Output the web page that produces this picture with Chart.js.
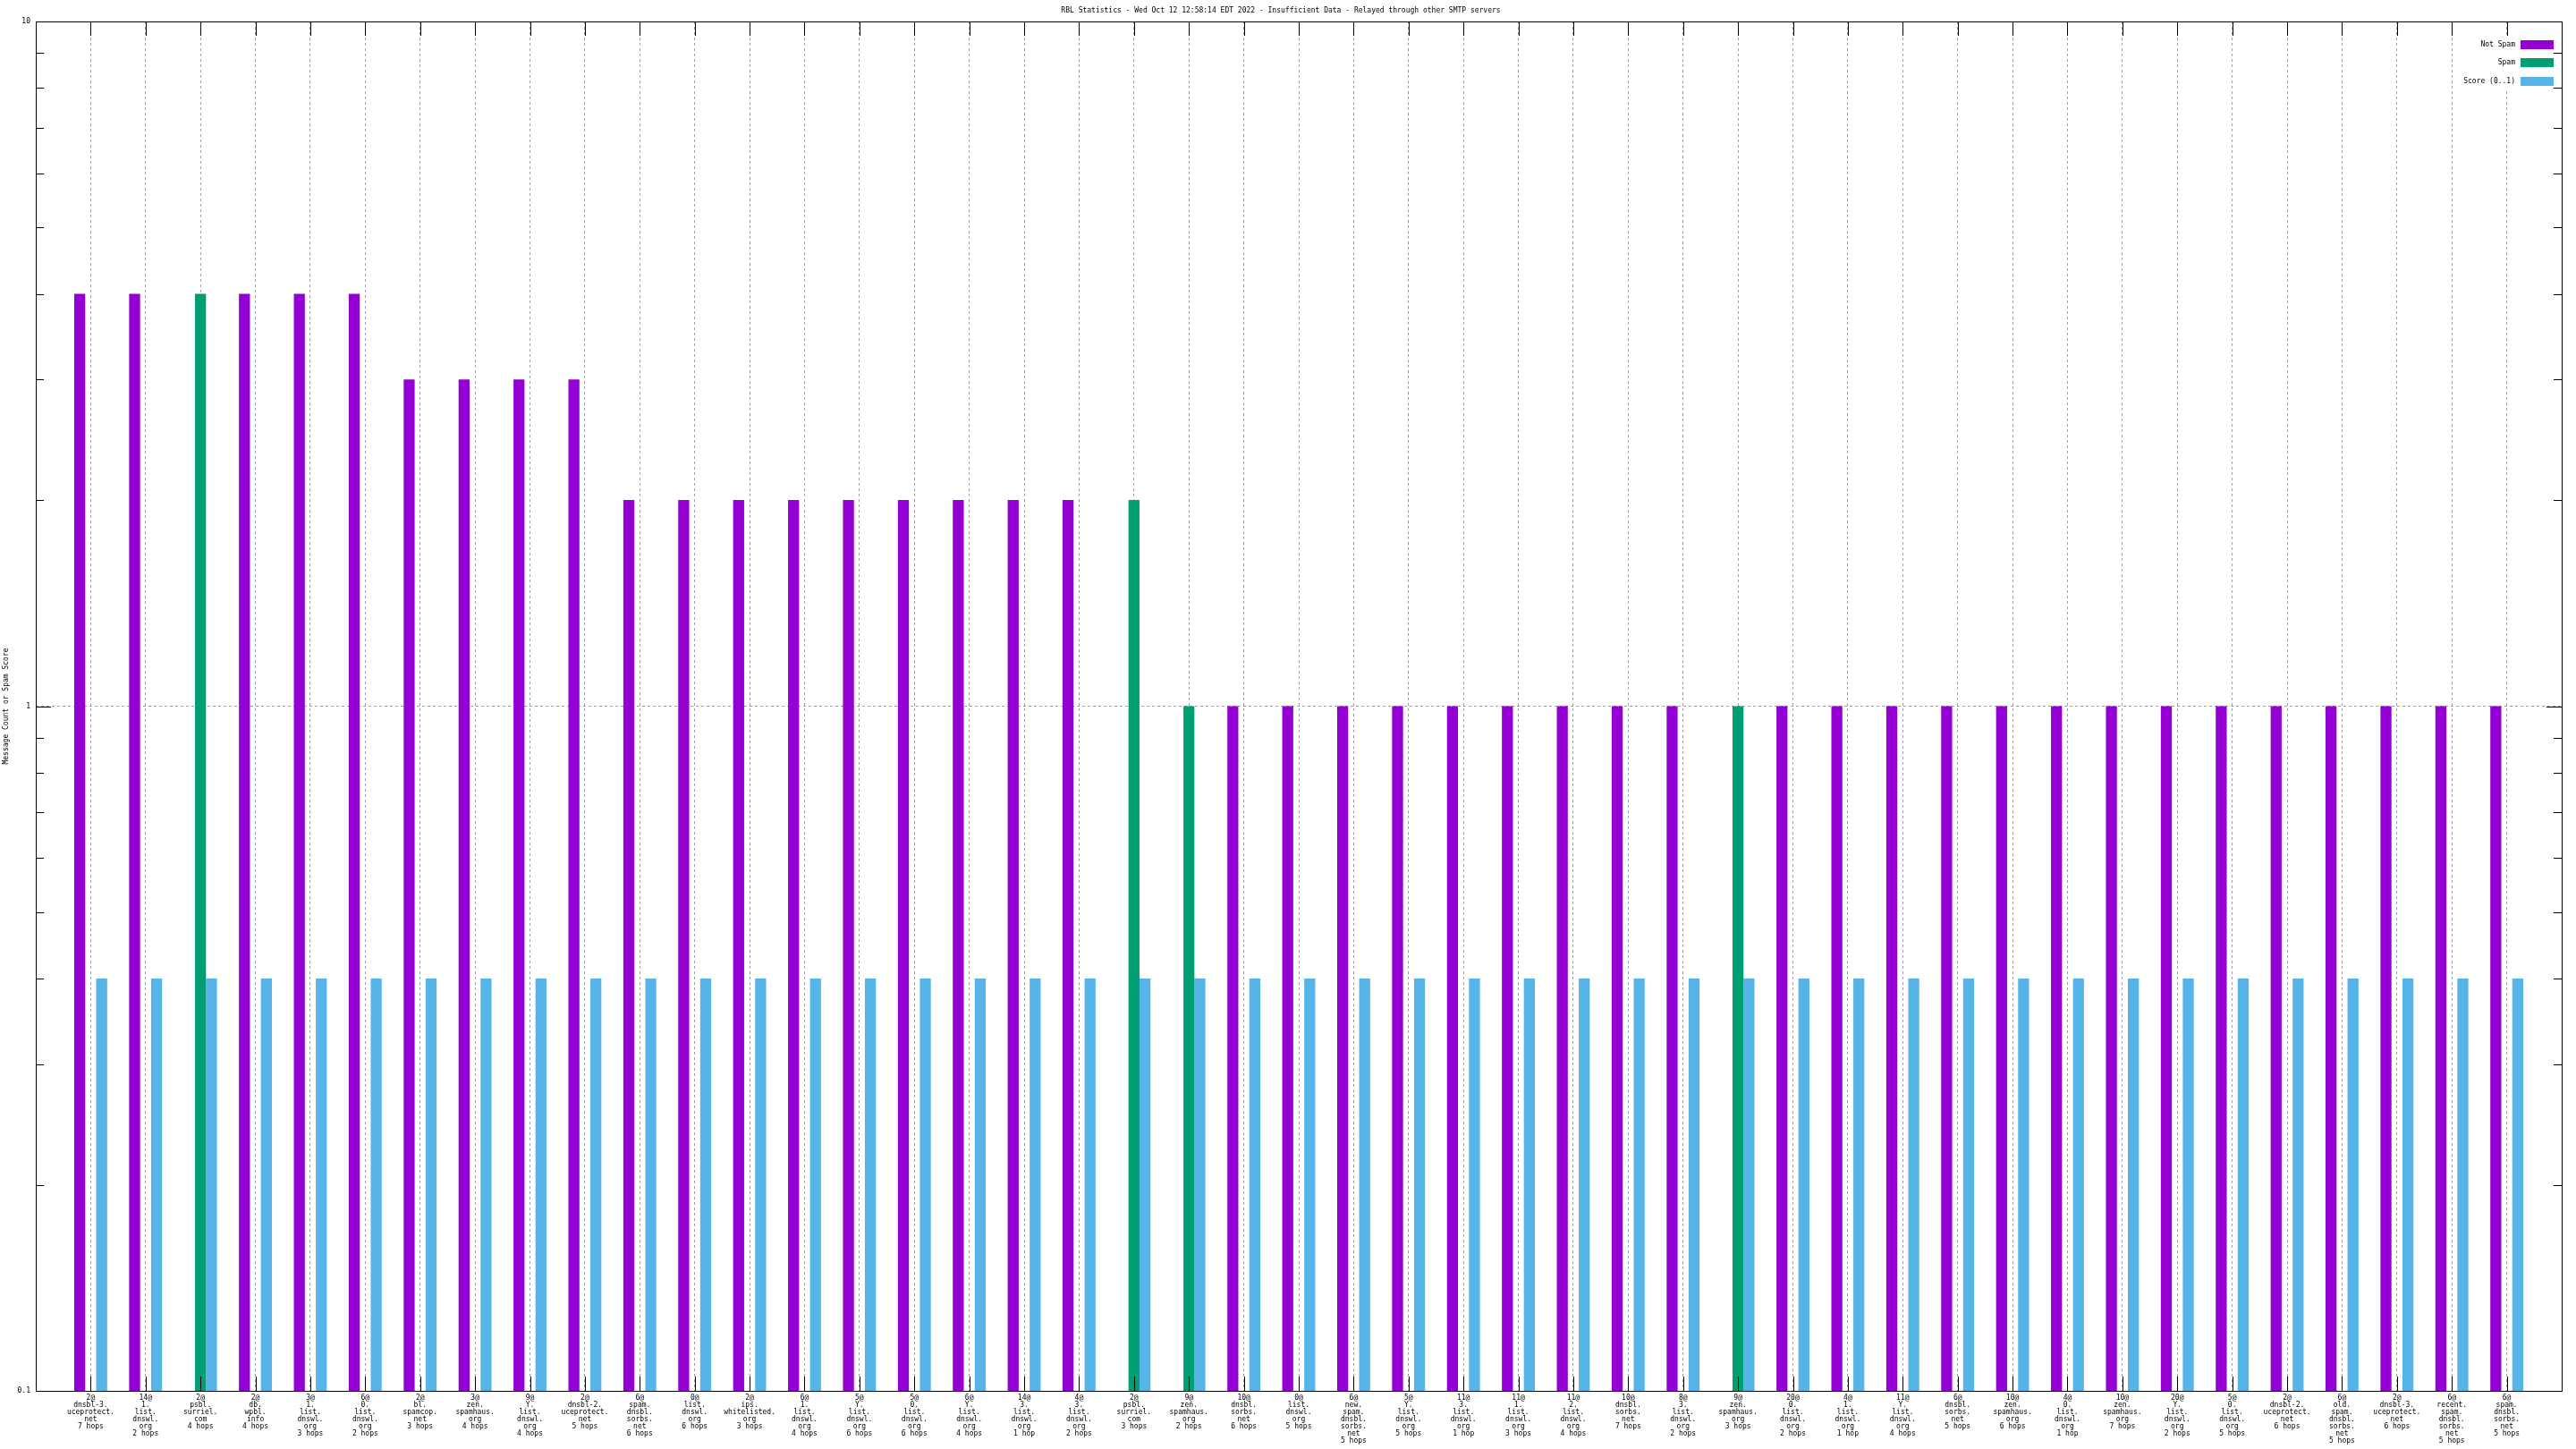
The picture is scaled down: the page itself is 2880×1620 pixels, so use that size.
<!DOCTYPE html>
<html>
<head>
<meta charset="utf-8">
<title>RBL Statistics</title>
<script src="https://cdn.jsdelivr.net/npm/chart.js@4/dist/chart.umd.min.js"></script>
<style>
  html, body { margin: 0; padding: 0; background: #fff; }
  canvas { display: block; }
</style>
</head>
<body>
<canvas id="rbl-chart" width="2880" height="1620"></canvas>
<script>
// one entry per bar group: "count@" / list / hops, split into label lines
const categories = [
  ['2@', 'dnsbl-3.', 'uceprotect.', 'net', '7 hops'],
  ['14@', '1.', 'list.', 'dnswl.', 'org', '2 hops'],
  ['2@', 'psbl.', 'surriel.', 'com', '4 hops'],
  ['2@', 'db.', 'wpbl.', 'info', '4 hops'],
  ['3@', '1.', 'list.', 'dnswl.', 'org', '3 hops'],
  ['6@', '0.', 'list.', 'dnswl.', 'org', '2 hops'],
  ['2@', 'bl.', 'spamcop.', 'net', '3 hops'],
  ['3@', 'zen.', 'spamhaus.', 'org', '4 hops'],
  ['9@', 'Y.', 'list.', 'dnswl.', 'org', '4 hops'],
  ['2@', 'dnsbl-2.', 'uceprotect.', 'net', '5 hops'],
  ['6@', 'spam.', 'dnsbl.', 'sorbs.', 'net', '6 hops'],
  ['0@', 'list.', 'dnswl.', 'org', '6 hops'],
  ['2@', 'ips.', 'whitelisted.', 'org', '3 hops'],
  ['6@', '1.', 'list.', 'dnswl.', 'org', '4 hops'],
  ['5@', 'Y.', 'list.', 'dnswl.', 'org', '6 hops'],
  ['5@', '0.', 'list.', 'dnswl.', 'org', '6 hops'],
  ['6@', 'Y.', 'list.', 'dnswl.', 'org', '4 hops'],
  ['14@', '3.', 'list.', 'dnswl.', 'org', '1 hop'],
  ['4@', '3.', 'list.', 'dnswl.', 'org', '2 hops'],
  ['2@', 'psbl.', 'surriel.', 'com', '3 hops'],
  ['9@', 'zen.', 'spamhaus.', 'org', '2 hops'],
  ['10@', 'dnsbl.', 'sorbs.', 'net', '6 hops'],
  ['0@', 'list.', 'dnswl.', 'org', '5 hops'],
  ['6@', 'new.', 'spam.', 'dnsbl.', 'sorbs.', 'net', '5 hops'],
  ['5@', 'Y.', 'list.', 'dnswl.', 'org', '5 hops'],
  ['11@', '3.', 'list.', 'dnswl.', 'org', '1 hop'],
  ['11@', '1.', 'list.', 'dnswl.', 'org', '3 hops'],
  ['11@', '2.', 'list.', 'dnswl.', 'org', '4 hops'],
  ['10@', 'dnsbl.', 'sorbs.', 'net', '7 hops'],
  ['8@', '3.', 'list.', 'dnswl.', 'org', '2 hops'],
  ['9@', 'zen.', 'spamhaus.', 'org', '3 hops'],
  ['20@', '0.', 'list.', 'dnswl.', 'org', '2 hops'],
  ['4@', '1.', 'list.', 'dnswl.', 'org', '1 hop'],
  ['11@', 'Y.', 'list.', 'dnswl.', 'org', '4 hops'],
  ['6@', 'dnsbl.', 'sorbs.', 'net', '5 hops'],
  ['10@', 'zen.', 'spamhaus.', 'org', '6 hops'],
  ['4@', '0.', 'list.', 'dnswl.', 'org', '1 hop'],
  ['10@', 'zen.', 'spamhaus.', 'org', '7 hops'],
  ['20@', 'Y.', 'list.', 'dnswl.', 'org', '2 hops'],
  ['5@', '0.', 'list.', 'dnswl.', 'org', '5 hops'],
  ['2@', 'dnsbl-2.', 'uceprotect.', 'net', '6 hops'],
  ['6@', 'old.', 'spam.', 'dnsbl.', 'sorbs.', 'net', '5 hops'],
  ['2@', 'dnsbl-3.', 'uceprotect.', 'net', '6 hops'],
  ['6@', 'recent.', 'spam.', 'dnsbl.', 'sorbs.', 'net', '5 hops'],
  ['6@', 'spam.', 'dnsbl.', 'sorbs.', 'net', '5 hops']
];

const notSpam = [4, 4, 0, 4, 4, 4, 3, 3, 3, 3, 2, 2, 2, 2, 2, 2, 2, 2, 2, 0, 0, 1, 1, 1, 1, 1, 1, 1, 1, 1, 0, 1, 1, 1, 1, 1, 1, 1, 1, 1, 1, 1, 1, 1, 1];
const spam    = [0, 0, 4, 0, 0, 0, 0, 0, 0, 0, 0, 0, 0, 0, 0, 0, 0, 0, 0, 2, 1, 0, 0, 0, 0, 0, 0, 0, 0, 0, 1, 0, 0, 0, 0, 0, 0, 0, 0, 0, 0, 0, 0, 0, 0];
const score   = [0.4, 0.4, 0.4, 0.4, 0.4, 0.4, 0.4, 0.4, 0.4, 0.4, 0.4, 0.4, 0.4, 0.4, 0.4, 0.4, 0.4, 0.4, 0.4, 0.4, 0.4, 0.4, 0.4, 0.4, 0.4, 0.4, 0.4, 0.4, 0.4, 0.4, 0.4, 0.4, 0.4, 0.4, 0.4, 0.4, 0.4, 0.4, 0.4, 0.4, 0.4, 0.4, 0.4, 0.4, 0.4];

const yTicks = [0.1, 1, 10];

const FONT = { family: '"DejaVu Sans Mono", monospace', size: 8, lineHeight: 1, weight: 'normal' };

// zero can't sit on a log axis, so leave those slots empty
const toPoints = arr => arr.map((v, i) => ({ x: i, y: v > 0 ? v : null }));

// gnuplot look: inward ticks on all four sides, opaque key top right
const gnuplotFrame = {
  id: 'gnuplotFrame',
  afterDraw(chart) {
    const { ctx, chartArea: a, scales: { x, y } } = chart;
    ctx.save();

    // key
    ctx.fillStyle = '#fff';
    ctx.fillRect(a.right - 119, a.top + 16, 119, 61);
    ctx.font = '8px "DejaVu Sans Mono", monospace';
    ctx.textAlign = 'right';
    ctx.textBaseline = 'middle';
    chart.data.datasets.forEach((ds, i) => {
      const cy = a.top + 26 + i * 20.4;
      ctx.fillStyle = '#000';
      ctx.fillText(ds.label, a.right - 52, cy);
      ctx.fillStyle = ds.backgroundColor;
      ctx.fillRect(a.right - 46, Math.round(cy - 5), 37, 10);
    });

    ctx.strokeStyle = '#000';
    ctx.lineWidth = 1;
    ctx.beginPath();
    categories.forEach((c, i) => {
      const px = Math.round(x.getPixelForValue(i)) + 0.5;
      ctx.moveTo(px, a.top);
      ctx.lineTo(px, a.top + 16);
      ctx.moveTo(px, a.bottom);
      ctx.lineTo(px, a.bottom - 16);
    });
    yTicks.forEach(v => {
      const py = Math.round(y.getPixelForValue(v)) + 0.5;
      ctx.moveTo(a.left, py);
      ctx.lineTo(a.left + 17, py);
      ctx.moveTo(a.right, py);
      ctx.lineTo(a.right - 17, py);
    });
    [0.1, 1].forEach(d => {
      for (let k = 2; k <= 9; k++) {
        const py = Math.round(y.getPixelForValue(d * k)) + 0.5;
        ctx.moveTo(a.left, py);
        ctx.lineTo(a.left + 9, py);
        ctx.moveTo(a.right, py);
        ctx.lineTo(a.right - 9, py);
      }
    });
    ctx.stroke();
    ctx.strokeRect(a.left + 0.5, a.top + 0.5, a.right - a.left, a.bottom - a.top);
    ctx.restore();
  }
};

document.addEventListener('DOMContentLoaded', () => {
  const ctx = document.getElementById('rbl-chart').getContext('2d');
  new Chart(ctx, {
    type: 'bar',
    data: {
      datasets: [
        { label: 'Not Spam', data: toPoints(notSpam), backgroundColor: '#9400d3' },
        { label: 'Spam', data: toPoints(spam), backgroundColor: '#009e73' },
        { label: 'Score (0..1)', data: toPoints(score), backgroundColor: '#56b4e9' }
      ]
    },
    options: {
      responsive: false,
      animation: false,
      devicePixelRatio: 1,
      events: [],
      layout: { padding: { right: 16 } },
      datasets: {
        bar: { categoryPercentage: 0.6, barPercentage: 1, borderWidth: 0 }
      },
      plugins: {
        legend: { display: false },
        tooltip: { enabled: false },
        title: {
          display: true,
          text: 'RBL Statistics - Wed Oct 12 12:58:14 EDT 2022 - Insufficient Data - Relayed through other SMTP servers',
          color: '#000',
          font: FONT,
          padding: { top: 8, bottom: 8 }
        }
      },
      scales: {
        x: {
          type: 'linear',
          offset: false,
          min: -1,
          max: categories.length,
          afterBuildTicks: s => { s.ticks = categories.map((c, i) => ({ value: i })); },
          afterFit: s => { s.height = 65; },
          grid: { offset: false, color: '#a0a0a0', lineWidth: 1, drawTicks: false },
          border: { display: false, dash: [3, 3] },
          ticks: {
            autoSkip: false,
            maxRotation: 0,
            padding: 4,
            color: '#000',
            font: FONT,
            callback: v => categories[v] || ''
          }
        },
        y: {
          type: 'logarithmic',
          min: 0.1,
          max: 10,
          afterBuildTicks: s => { s.ticks = yTicks.map(v => ({ value: v })); },
          afterFit: s => { s.width = 40; },
          grid: {
            color: c => (c.tick && c.tick.value === 1 ? '#a0a0a0' : 'rgba(0,0,0,0)'),
            lineWidth: 1,
            drawTicks: false
          },
          border: { display: false, dash: [3, 3] },
          ticks: { padding: 6, color: '#000', font: FONT, callback: v => String(v) },
          title: {
            display: true,
            text: 'Message Count or Spam Score',
            color: '#000',
            font: FONT,
            padding: 3
          }
        }
      }
    },
    plugins: [gnuplotFrame]
  });
});
</script>
</body>
</html>
